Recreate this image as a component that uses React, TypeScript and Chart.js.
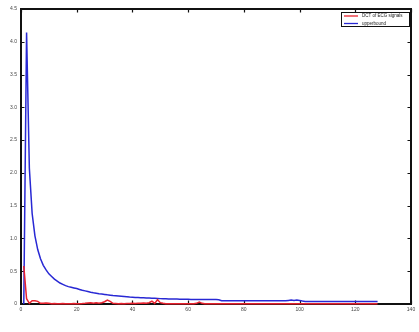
import React, { useEffect, useRef } from "react";
import { Chart, registerables } from "chart.js";

Chart.register(...registerables);

const xValues: number[] = Array.from({ length: 128 }, (_, i) => i + 1);

const upperbound: number[] = [
  0.0, 4.14, 2.07, 1.38, 1.04, 0.83, 0.69, 0.59, 0.52, 0.46,
  0.42, 0.38, 0.35, 0.32, 0.3, 0.28, 0.265, 0.255, 0.245, 0.235,
  0.222, 0.21, 0.2, 0.19, 0.18, 0.172, 0.165, 0.158, 0.152, 0.146,
  0.14, 0.135, 0.13, 0.126, 0.122, 0.118, 0.114, 0.11, 0.106, 0.103,
  0.1, 0.098, 0.096, 0.094, 0.092, 0.09, 0.088, 0.086, 0.084, 0.082,
  0.08, 0.079, 0.078, 0.077, 0.076, 0.075, 0.074, 0.073, 0.072, 0.071,
  0.07, 0.07, 0.069, 0.069, 0.068, 0.068, 0.068, 0.067, 0.067, 0.067,
  0.066, 0.05, 0.05, 0.05, 0.05, 0.05, 0.05, 0.05, 0.05, 0.05,
  0.05, 0.05, 0.05, 0.05, 0.05, 0.05, 0.05, 0.05, 0.05, 0.05,
  0.05, 0.05, 0.05, 0.05, 0.05, 0.055, 0.06, 0.055, 0.06, 0.055,
  0.045, 0.04, 0.04, 0.04, 0.04, 0.04, 0.04, 0.04, 0.04, 0.04,
  0.04, 0.04, 0.04, 0.04, 0.04, 0.04, 0.04, 0.04, 0.04, 0.04,
  0.04, 0.04, 0.04, 0.04, 0.04, 0.04, 0.04, 0.04,
];

const dctSignal: number[] = [
  0.58, 0.08, 0.01, 0.05, 0.05, 0.04, 0.01, 0.01, 0.015, 0.01,
  0.005, 0.008, 0.005, 0.004, 0.006, 0.005, 0.004, 0.005, 0.006, 0.004,
  0.005, 0.006, 0.01, 0.015, 0.02, 0.012, 0.018, 0.01, 0.02, 0.035,
  0.06, 0.04, 0.01, 0.008, 0.005, 0.006, 0.004, 0.008, 0.006, 0.01,
  0.008, 0.012, 0.01, 0.015, 0.01, 0.02, 0.045, 0.01, 0.065, 0.02,
  0.01, 0.005, 0.004, 0.005, 0.004, 0.003, 0.004, 0.003, 0.005, 0.004,
  0.003, 0.005, 0.01, 0.03, 0.01, 0.004, 0.003, 0.004, 0.003, 0.004,
  0.003, 0.004, 0.003, 0.003, 0.004, 0.003, 0.003, 0.004, 0.003, 0.003,
  0.003, 0.004, 0.003, 0.003, 0.003, 0.004, 0.003, 0.003, 0.003, 0.003,
  0.004, 0.003, 0.003, 0.003, 0.003, 0.003, 0.004, 0.003, 0.003, 0.003,
  0.003, 0.003, 0.003, 0.003, 0.003, 0.003, 0.003, 0.003, 0.003, 0.003,
  0.003, 0.003, 0.003, 0.003, 0.003, 0.003, 0.003, 0.003, 0.003, 0.003,
  0.003, 0.003, 0.003, 0.003, 0.003, 0.003, 0.003, 0.003,
];

const xTicks: number[] = [0, 20, 40, 60, 80, 100, 120, 140];
const yTicks: number[] = [0, 0.5, 1, 1.5, 2, 2.5, 3, 3.5, 4, 4.5];
const seriesLabels: string[] = ["DCT of ECG signals", "upperbound"];

const RED = "#e8222e";
const BLUE = "#2828d4";

const framePlugin = {
  id: "frame",
  beforeDatasetsDraw(chart: any) {
    const { ctx, chartArea } = chart;
    const xs = chart.scales.x;
    const ys = chart.scales.y;
    ctx.save();
    ctx.strokeStyle = "#111";
    ctx.lineWidth = 2;
    ctx.strokeRect(chartArea.left, chartArea.top, chartArea.right - chartArea.left, chartArea.bottom - chartArea.top);
    ctx.lineWidth = 1.2;
    const tl = 3.5;
    ctx.beginPath();
    xTicks.forEach((v) => {
      const px = Math.round(xs.getPixelForValue(v)) + 0.5;
      ctx.moveTo(px, chartArea.bottom);
      ctx.lineTo(px, chartArea.bottom - tl);
      ctx.moveTo(px, chartArea.top);
      ctx.lineTo(px, chartArea.top + tl);
    });
    yTicks.forEach((v) => {
      const py = Math.round(ys.getPixelForValue(v)) + 0.5;
      ctx.moveTo(chartArea.left, py);
      ctx.lineTo(chartArea.left + tl, py);
      ctx.moveTo(chartArea.right, py);
      ctx.lineTo(chartArea.right - tl, py);
    });
    ctx.stroke();
    ctx.restore();
  },
  afterDatasetsDraw(chart: any) {
    const { ctx, chartArea } = chart;
    ctx.save();
    const boxR = chartArea.right - 1;
    const boxL = boxR - 69;
    const boxT = chartArea.top + 3;
    const boxB = boxT + 15;
    ctx.fillStyle = "#fff";
    ctx.fillRect(boxL, boxT, boxR - boxL, boxB - boxT);
    ctx.strokeStyle = "#111";
    ctx.lineWidth = 1;
    ctx.strokeRect(boxL + 0.5, boxT + 0.5, boxR - boxL - 1, boxB - boxT - 1);
    const colors = [RED, BLUE];
    ctx.font = "4.5px 'Liberation Sans', Arial, sans-serif";
    ctx.textBaseline = "middle";
    ctx.textAlign = "left";
    seriesLabels.forEach((lab, i) => {
      const y = boxT + 4 + i * 7.5;
      ctx.strokeStyle = colors[i];
      ctx.lineWidth = 1.3;
      ctx.beginPath();
      ctx.moveTo(boxL + 3, y);
      ctx.lineTo(boxL + 17, y);
      ctx.stroke();
      ctx.fillStyle = "#222";
      ctx.fillText(lab, boxL + 21, y);
    });
    ctx.restore();
  },
};

export default function App() {
  const ref = useRef<HTMLCanvasElement | null>(null);
  useEffect(() => {
    document.body.style.margin = "0";
    const canvas = ref.current;
    if (!canvas) return;
    const tickFont = { size: 5, family: "'Liberation Sans', Arial, sans-serif" };
    const chart = new Chart(canvas, {
      type: "line",
      data: {
        datasets: [
          {
            label: seriesLabels[0],
            data: xValues.map((x, i) => ({ x, y: dctSignal[i] })),
            borderColor: RED,
            borderWidth: 1.5,
            pointRadius: 0,
            tension: 0,
            clip: false,
          },
          {
            label: seriesLabels[1],
            data: xValues.map((x, i) => ({ x, y: upperbound[i] })),
            borderColor: BLUE,
            borderWidth: 1.5,
            pointRadius: 0,
            tension: 0,
            clip: false,
          },
        ],
      },
      options: {
        animation: false,
        responsive: false,
        devicePixelRatio: 1,
        layout: { padding: { top: 9, right: 8, left: 0, bottom: 0 } },
        plugins: { legend: { display: false }, tooltip: { enabled: false } },
        scales: {
          x: {
            type: "linear",
            min: 0,
            max: 140,
            afterBuildTicks: (s: any) => {
              s.ticks = xTicks.map((v) => ({ value: v }));
            },
            afterFit: (s: any) => {
              s.height = 28;
            },
            ticks: { font: tickFont, color: "#444", padding: 3, maxRotation: 0 },
            grid: { display: false, drawTicks: false },
            border: { display: false },
          },
          y: {
            type: "linear",
            min: 0,
            max: 4.5,
            afterBuildTicks: (s: any) => {
              s.ticks = yTicks.map((v) => ({ value: v }));
            },
            afterFit: (s: any) => {
              s.width = 21;
            },
            ticks: { font: tickFont, color: "#444", padding: 4 },
            grid: { display: false, drawTicks: false },
            border: { display: false },
          },
        },
      },
      plugins: [framePlugin],
    } as any);
    return () => chart.destroy();
  }, []);
  return (
    <div style={{ width: 419, height: 332, background: "#fff" }}>
      <canvas ref={ref} width={419} height={332} style={{ display: "block" }} />
    </div>
  );
}
